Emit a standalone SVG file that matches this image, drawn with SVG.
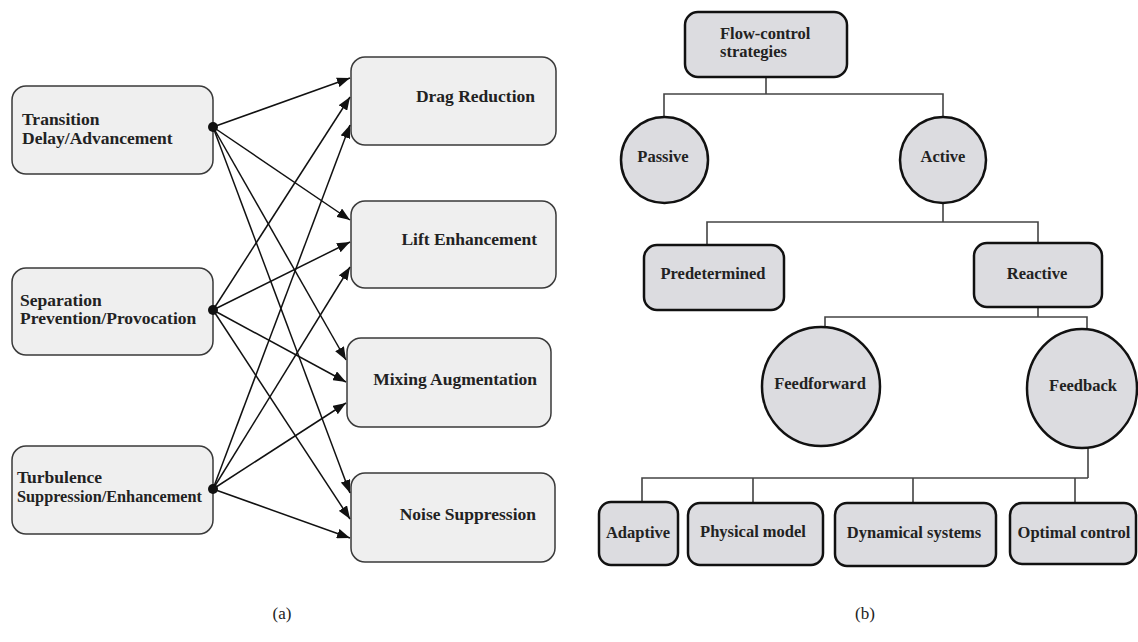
<svg xmlns="http://www.w3.org/2000/svg" width="1138" height="642" viewBox="0 0 1138 642">
<defs>
<marker id="ah" markerUnits="userSpaceOnUse" markerWidth="14" markerHeight="10" refX="13" refY="5" orient="auto">
<path d="M0,0 L13,5 L0,10 z" fill="#111"/>
</marker>
<style>
.abox{fill:#efefef;stroke:#3a3a3a;stroke-width:1.5}
.bbox{fill:#dcdce0;stroke:#111;stroke-width:2.5}
.ta{font-family:"Liberation Serif",serif;font-weight:bold;font-size:17.5px;fill:#222}
.tb{font-family:"Liberation Serif",serif;font-weight:bold;font-size:16.5px;fill:#222}
.cap{font-family:"Liberation Serif",serif;font-size:17px;fill:#222}
.arr{stroke:#111;stroke-width:1.5;fill:none;marker-end:url(#ah)}
.tree{stroke:#444;stroke-width:1.6;fill:none}
.mid{text-anchor:middle}
.end{text-anchor:end}
</style>
</defs>
<rect width="1138" height="642" fill="#fff"/>

<!-- Panel (a) -->
<g id="transition">
<rect class="abox" x="12" y="86" width="201" height="88" rx="14"/>
<text class="ta" x="22" y="125">Transition</text>
<text class="ta" x="22" y="144">Delay/Advancement</text>
</g>
<g id="separation">
<rect class="abox" x="12" y="268" width="201" height="87" rx="14"/>
<text class="ta" x="20" y="306">Separation</text>
<text class="ta" x="20" y="324">Prevention/Provocation</text>
</g>
<g id="turbulence">
<rect class="abox" x="12" y="446" width="201" height="88" rx="14"/>
<text class="ta" x="17" y="483">Turbulence</text>
<text class="ta" x="17" y="502" textLength="185" lengthAdjust="spacingAndGlyphs">Suppression/Enhancement</text>
</g>
<g id="drag">
<rect class="abox" x="351" y="57" width="205" height="88" rx="14"/>
<text class="ta end" x="535" y="102">Drag Reduction</text>
</g>
<g id="lift">
<rect class="abox" x="351" y="201" width="205" height="87" rx="14"/>
<text class="ta end" x="537" y="245">Lift Enhancement</text>
</g>
<g id="mixing">
<rect class="abox" x="347" y="338" width="204" height="89" rx="14"/>
<text class="ta end" x="537" y="385">Mixing Augmentation</text>
</g>
<g id="noise">
<rect class="abox" x="351" y="473" width="204" height="89" rx="14"/>
<text class="ta end" x="536" y="520">Noise Suppression</text>
</g>

<g id="connectors-a">
<path class="arr" d="M213,127 L350,78"/>
<path class="arr" d="M213,127 L350,220"/>
<path class="arr" d="M213,127 L346,360"/>
<path class="arr" d="M213,127 L350,493"/>
<path class="arr" d="M213,310 L350,97"/>
<path class="arr" d="M213,310 L350,242"/>
<path class="arr" d="M213,310 L346,382"/>
<path class="arr" d="M213,310 L350,519"/>
<path class="arr" d="M213,489 L350,125"/>
<path class="arr" d="M213,489 L350,267"/>
<path class="arr" d="M213,489 L346,403"/>
<path class="arr" d="M213,489 L350,538"/>
<circle cx="213" cy="127" r="5" fill="#111"/>
<circle cx="213" cy="310" r="5" fill="#111"/>
<circle cx="213" cy="489" r="5" fill="#111"/>
</g>

<!-- Panel (b) -->
<g id="connectors-b">
<path class="tree" d="M766,77 V94 M664,117 V94 H943 V117"/>
<path class="tree" d="M943,203 V222 M707,245 V222 H1038 V243"/>
<path class="tree" d="M1038,307 V317 M825,327 V317 H1087 V329"/>
<path class="tree" d="M1088,448 V478 M642,502 V478 H1088 M753,503 V478 M913,503 V478 M1075,503 V478"/>
</g>
<g id="flowcontrol">
<rect class="bbox" x="685" y="12" width="162" height="65" rx="13"/>
<text class="tb" x="720" y="39">Flow-control</text>
<text class="tb" x="720" y="57">strategies</text>
</g>
<g id="passive">
<ellipse class="bbox" cx="664.5" cy="160" rx="43.5" ry="43"/>
<text class="tb mid" x="663" y="162">Passive</text>
</g>
<g id="active">
<ellipse class="bbox" cx="943" cy="160" rx="43" ry="43"/>
<text class="tb mid" x="943" y="162">Active</text>
</g>
<g id="predetermined">
<rect class="bbox" x="644" y="245" width="140" height="65" rx="13"/>
<text class="tb mid" x="713" y="279">Predetermined</text>
</g>
<g id="reactive">
<rect class="bbox" x="974" y="243" width="128" height="64" rx="13"/>
<text class="tb mid" x="1037" y="279">Reactive</text>
</g>
<g id="feedforward">
<ellipse class="bbox" cx="821" cy="386.5" rx="59" ry="59.5"/>
<text class="tb mid" x="820" y="389">Feedforward</text>
</g>
<g id="feedback">
<ellipse class="bbox" cx="1082" cy="388.5" rx="55" ry="59.5"/>
<text class="tb mid" x="1083" y="391">Feedback</text>
</g>
<g id="adaptive">
<rect class="bbox" x="599" y="502" width="79" height="63" rx="12"/>
<text class="tb mid" x="638" y="538">Adaptive</text>
</g>
<g id="physical">
<rect class="bbox" x="688" y="503" width="135" height="62" rx="12"/>
<text class="tb mid" x="753" y="537">Physical model</text>
</g>
<g id="dynamical">
<rect class="bbox" x="835" y="503" width="161" height="63" rx="12"/>
<text class="tb mid" x="914" y="538">Dynamical systems</text>
</g>
<g id="optimal">
<rect class="bbox" x="1010" y="503" width="126" height="61" rx="12"/>
<text class="tb mid" x="1074" y="538">Optimal control</text>
</g>

<text class="cap mid" x="282" y="619">(a)</text>
<text class="cap mid" x="865" y="619">(b)</text>
</svg>
